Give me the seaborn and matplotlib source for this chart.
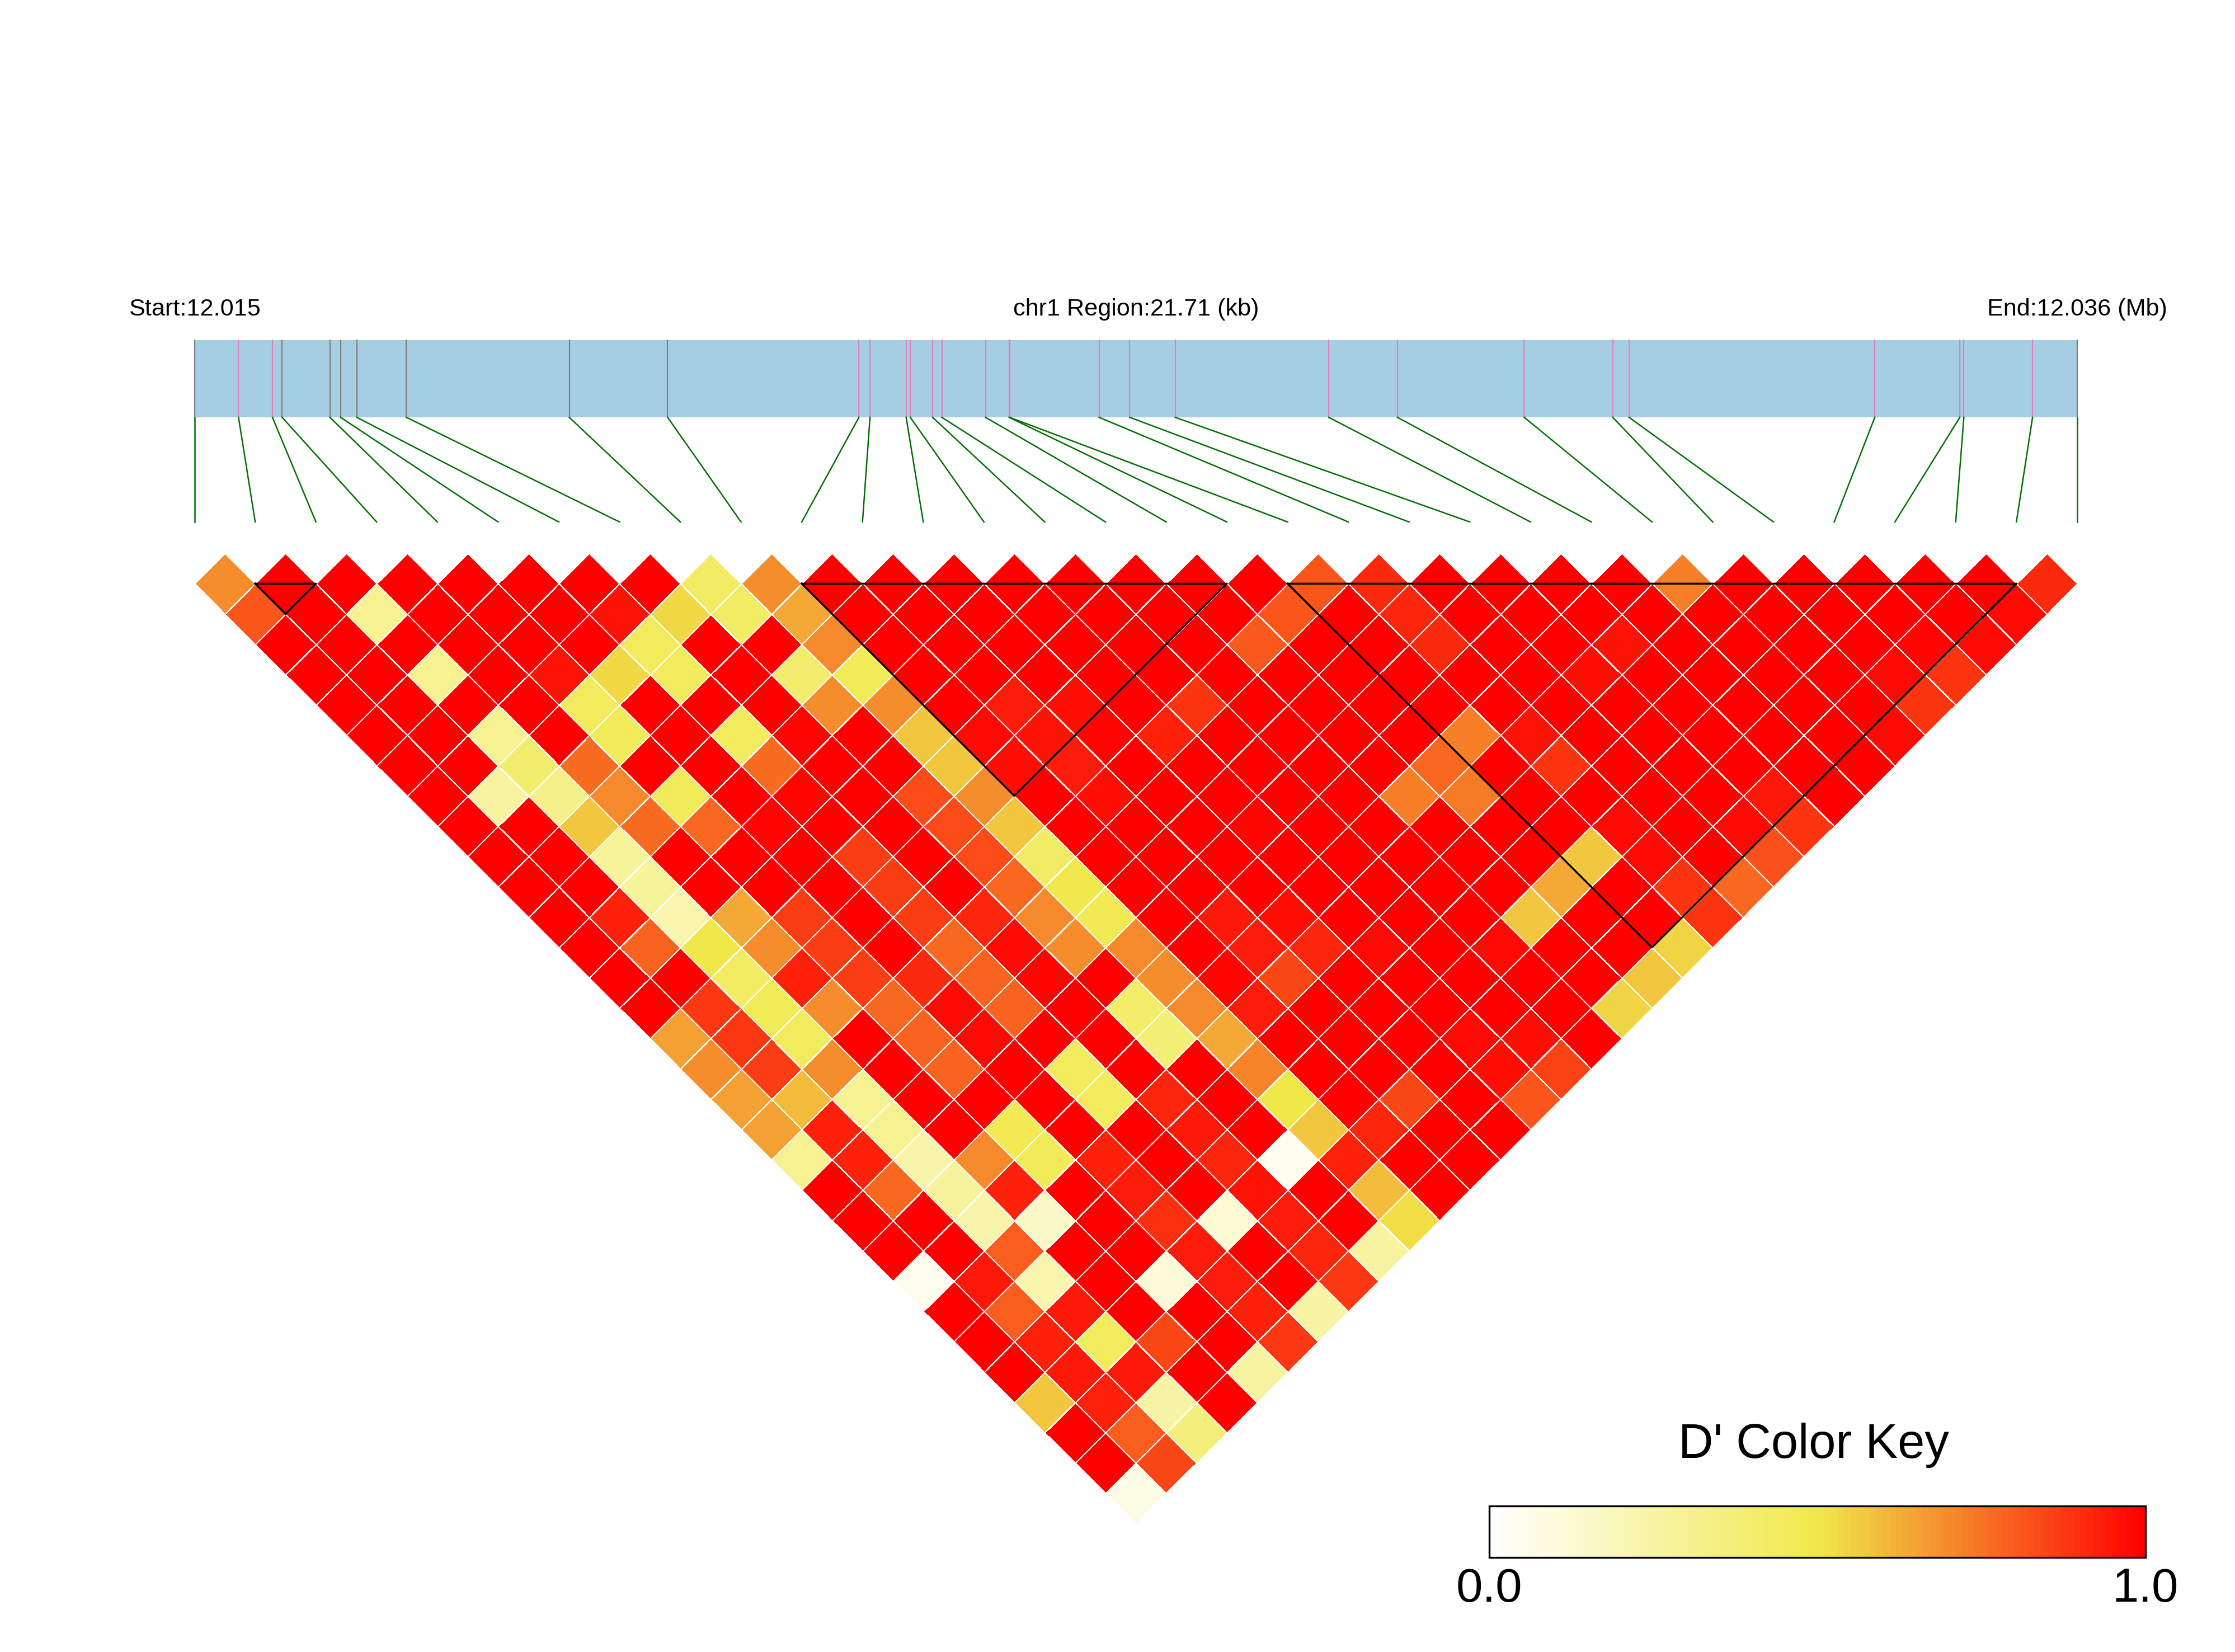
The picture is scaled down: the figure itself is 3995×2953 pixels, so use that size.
import numpy as np
import matplotlib
matplotlib.use("Agg")
import matplotlib.pyplot as plt
from matplotlib.colors import LinearSegmentedColormap
from matplotlib.transforms import Affine2D
import seaborn as sns

# SNP positions along the region, kb from the start
snp_kb = [0.000, 0.508, 0.899, 1.011, 1.562, 1.685, 1.872, 2.444, 4.322, 5.456, 7.662,
          7.790, 8.207, 8.255, 8.512, 8.619, 9.122, 9.394, 9.399, 10.432, 10.785, 11.310,
          13.080, 13.872, 15.334, 16.355, 16.543, 19.377, 20.357, 20.404, 21.196, 21.710]
gray_snps = [0, 3, 4, 5, 6, 7, 8, 9, 31]
region_kb = 21.71

# D', one list per SNP distance (j - i), ordered by i
dist_01 = [.69, 1, 1, 1, 1, 1, 1, 1, .42, .69, 1, 1, 1, 1, 1, 1, 1, 1, .81, .90, 1, 1, 1, 1, .725, 1, 1, 1, 1, 1, .90]
dist_02 = [.81, 1, .30, 1, 1, 1, .95, .53, .42, .635, 1, 1, 1, 1, 1, 1, 1, .81, 1, .91, 1, 1, 1, 1, 1, 1, 1, 1, 1, .97]
dist_03 = [1, 1, 1, 1, 1, 1, .44, 1, 1, .70, 1, 1, 1, 1, 1, 1, .80, 1, 1, .90, 1, 1, .95, 1, 1, 1, 1, .98, .97]
dist_04 = [1, 1, .30, 1, .95, .53, .44, 1, .40, .46, 1, 1, 1, 1, 1, 1, 1, 1, 1, 1, 1, .96, 1, 1, 1, 1, .97, .88]
dist_05 = [1, 1, 1, 1, .44, 1, 1, 1, .69, .69, 1, .93, .96, 1, .88, 1, 1, 1, 1, 1, 1, 1, 1, 1, 1, 1, .88]
dist_06 = [1, 1, .30, 1, .45, 1, .44, .98, 1, .575, .97, .95, .98, .92, 1, 1, 1, 1, .725, .95, 1, 1, 1, 1, 1, .97]
dist_07 = [1, 1, .40, .76, 1, 1, .76, 1, 1, .575, .96, .93, 1, 1, 1, 1, 1, .77, 1, .88, 1, 1, 1, 1, 1]
dist_08 = [1, .26, .32, .70, .45, 1, .98, 1, .83, .69, 1, .96, 1, 1, 1, 1, .725, .73, 1, 1, 1, 1, .94, 1]
dist_09 = [1, 1, .575, .76, .77, .98, 1, 1, .83, .575, 1, 1, 1, .98, 1, 1, 1, 1, 1, .97, 1, .97, .88]
dist_10 = [1, 1, .28, 1, 1, 1, .86, 1, .83, .42, 1, 1, 1, 1, 1, 1, 1, 1, .575, .97, 1, .82]
dist_11 = [1, 1, .28, 1, 1, 1, .86, 1, .77, .49, 1, 1, 1, 1, 1, 1, 1, .635, 1, .88, .77]
dist_12 = [1, .92, .22, .635, .86, 1, .86, .91, .70, .47, 1, .94, .96, 1, 1, 1, .575, 1, 1, .88]
dist_13 = [1, .78, .50, .69, .86, 1, .77, .97, .69, .70, 1, .93, .91, .97, 1, .97, 1, 1, .54]
dist_14 = [1, 1, .42, .92, .86, .90, .78, .98, 1, .69, .98, .84, 1, 1, 1, 1, 1, .575]
dist_15 = [1, .87, .46, .69, .77, .97, .78, 1, .41, .70, .93, 1, 1, 1, 1, 1, .545]
dist_16 = [.65, .87, .44, 1, .78, .97, 1, 1, .38, .635, 1, 1, 1, .97, .96, 1]
dist_17 = [.69, .86, .69, 1, .78, 1, .44, 1, 1, .71, 1, 1, 1, .96, .85]
dist_18 = [.65, .59, .30, 1, 1, 1, .44, .91, 1, .50, 1, .84, 1, .81]
dist_19 = [.65, .92, .30, 1, .47, 1, 1, .94, 1, .575, .91, 1, 1]
dist_20 = [.30, .92, .23, .70, .45, .92, 1, .91, .04, .92, 1, 1]
dist_21 = [1, .77, .27, .92, 1, .93, 1, .95, 1, .59, 1]
dist_22 = [1, 1, .23, .16, 1, .89, .12, .93, 1, .52]
dist_23 = [1, 1, .79, 1, 1, .93, 1, .91, .26]
dist_24 = [.04, .94, .22, 1, .11, .93, 1, .87]
dist_25 = [1, .79, .94, 1, 1, .92, .25]
dist_26 = [1, .92, .44, .84, 1, .87]
dist_27 = [1, .94, .94, 1, .26]
dist_28 = [.58, .92, .25, 1]
dist_29 = [1, .79, .36]
dist_30 = [1, .84]
dist_31 = [.07]
distances = [dist_01, dist_02, dist_03, dist_04, dist_05, dist_06, dist_07, dist_08,
             dist_09, dist_10, dist_11, dist_12, dist_13, dist_14, dist_15, dist_16,
             dist_17, dist_18, dist_19, dist_20, dist_21, dist_22, dist_23, dist_24,
             dist_25, dist_26, dist_27, dist_28, dist_29, dist_30, dist_31]

# LD blocks, as first and last SNP index
block_start = [1, 10, 18]
block_end = [2, 17, 30]

plt.rcParams['font.family'] = ['Liberation Sans', 'DejaVu Sans']

n = len(snp_kb)
matrix = np.full((n - 1, n - 1), np.nan)
for d, values in enumerate(distances, start=1):
    for i, v in enumerate(values):
        matrix[i, i + d - 1] = v

cmap = LinearSegmentedColormap.from_list("dprime", ["#FFFFFF", "#F0E94A", "#FF0000"], N=100)

W, H = 3995, 2953
fig = plt.figure(figsize=(W / 300, H / 300), dpi=300)
ax = fig.add_axes([0, 0, 1, 1])
cax = fig.add_axes([2662 / W, 1 - 2784 / H, 1173 / W, 92 / H])

sns.heatmap(matrix, ax=ax, cmap=cmap, vmin=0, vmax=1, mask=np.isnan(matrix),
            linewidths=0.3, linecolor="white", xticklabels=False, yticklabels=False,
            cbar=True, cbar_ax=cax,
            cbar_kws={"orientation": "horizontal", "ticks": [0, 1]})

# turn the square matrix into the hanging triangle
mesh = ax.collections[0]
mesh.set_transform(Affine2D.from_values(0.5, 1, 0.5, -1, 0, 0) + ax.transData)

# one x unit is one SNP, one y unit is one row of diamonds
dx = (3712.8 - 347.6) / 31
dy = 54.2
ax.set_xlim(-347.6 / dx, (W - 347.6) / dx)
ax.set_ylim((H - 1043.3) / dy, -1043.3 / dy)
ax.axis("off")

bar_top = (608 - 1043.3) / dy
bar_bottom = (746 - 1043.3) / dy
link_end = (933 - 1043.3) / dy
snp_x = [p / region_kb * (n - 1) for p in snp_kb]

ax.barh((bar_top + bar_bottom) / 2, n - 1, height=bar_bottom - bar_top, left=0,
        color="#A6CEE3", linewidth=0, zorder=3)
for k, x in enumerate(snp_x):
    color = "#808080" if k in gray_snps else "#DF82BB"
    ax.plot([x, x], [bar_top - 0.02, bar_bottom], color=color, lw=0.55, zorder=4,
            solid_capstyle="butt")
    ax.plot([x, k], [bar_bottom, link_end], color="#007000", lw=0.6, zorder=4)

for a, b in zip(block_start, block_end):
    ax.plot([a, b, (a + b) / 2, a], [0, 0, b - a, 0], color="black", lw=0.8, zorder=5)

label_y = (564 - 1043.3) / dy
ax.text(snp_x[0], label_y, "Start:12.015", ha="center", va="baseline", fontsize=10.4)
ax.text((snp_x[0] + snp_x[-1]) / 2, label_y, "chr1 Region:21.71 (kb)", ha="center",
        va="baseline", fontsize=10.4)
ax.text(snp_x[-1], label_y, "End:12.036 (Mb)", ha="center", va="baseline", fontsize=10.4)

# colour key
cbar = mesh.colorbar
cbar.set_ticklabels(["0.0", "1.0"])
cbar.ax.tick_params(length=0, labelsize=20.5, pad=4)
cbar.outline.set_visible(True)
cbar.outline.set_edgecolor("black")
cbar.outline.set_linewidth(0.8)
ax.text((3242 - 347.6) / dx, (2606 - 1043.3) / dy, "D' Color Key", ha="center",
        va="baseline", fontsize=20.8)

fig.savefig("out.png", dpi=300)
